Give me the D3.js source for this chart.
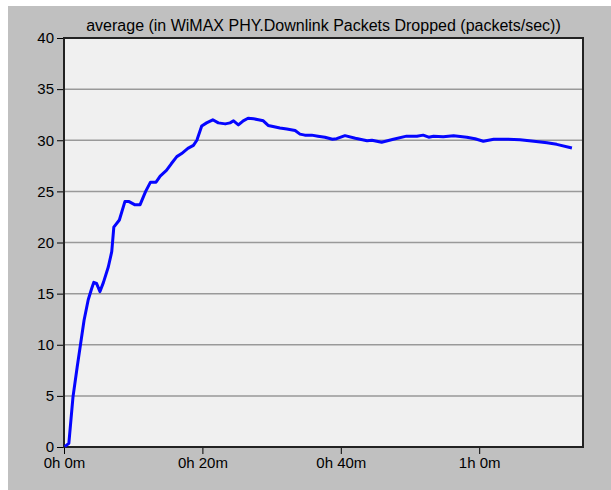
<!DOCTYPE html>
<html><head><meta charset="utf-8">
<script src="https://cdn.jsdelivr.net/npm/d3@7"></script>
<style>html,body{margin:0;padding:0;background:#fff;}svg{display:block;}</style>
</head><body>
<script>
const title = "average (in WiMAX PHY.Downlink Packets Dropped (packets/sec))";
const minutes = [0.1,0.7,1.3,1.9,2.4,2.9,3.5,4.0,4.3,4.7,5.2,5.7,6.4,6.9,7.2,8.0,8.8,9.4,10.2,11.0,11.8,12.5,13.3,13.9,14.8,15.5,16.3,17.0,17.9,18.7,19.2,19.9,20.6,21.5,22.3,23.3,24.0,24.5,25.2,25.9,26.6,27.4,28.1,28.8,29.5,30.2,31.2,32.2,33.4,34.1,34.8,35.8,36.7,37.7,38.8,39.4,40.6,42.1,43.8,44.5,45.9,47.6,49.5,51.0,51.9,52.7,53.4,54.8,56.3,58.2,59.4,60.6,62.1,64.0,65.9,67.9,69.8,71.2,73.4];
const values = [0.03,0.36,4.9,7.8,10.1,12.4,14.4,15.5,16.1,16.0,15.2,16.1,17.6,19.1,21.5,22.2,24.0,24.0,23.7,23.7,25.0,25.9,25.9,26.5,27.05,27.7,28.4,28.7,29.2,29.5,30.0,31.4,31.7,32.0,31.7,31.6,31.7,31.9,31.5,31.9,32.15,32.1,32.0,31.9,31.45,31.35,31.2,31.1,30.95,30.6,30.5,30.5,30.4,30.3,30.1,30.15,30.45,30.2,29.95,30.0,29.8,30.1,30.4,30.4,30.5,30.3,30.4,30.35,30.45,30.3,30.15,29.9,30.1,30.1,30.05,29.9,29.75,29.6,29.25];
const yTicks = [0,5,10,15,20,25,30,35,40];
const xTicks = [0,20,40,60];
const xTickLabels = ["0h 0m","0h 20m","0h 40m","1h 0m"];

const W = 611, H = 490;
const m = {left:64, right:W-583, top:38, bottom:H-447};
const svg = d3.select("body").append("svg").attr("width",W).attr("height",H);
svg.append("rect").attr("x",8).attr("y",6).attr("width",W-8).attr("height",H-6).attr("fill","#c0c0c0");

const x = d3.scaleLinear().domain([0,75]).range([m.left, W-m.right]);
const y = d3.scaleLinear().domain([0,40]).range([H-m.bottom, m.top]);

svg.append("rect").attr("x",x(0)).attr("y",y(40)).attr("width",x(75)-x(0)).attr("height",y(0)-y(40)).attr("fill","#f0f0f0");

// grid
svg.append("g").selectAll("line").data(yTicks.filter(d=>d>0&&d<40)).join("line")
  .attr("x1",x(0)).attr("x2",x(75)).attr("y1",d=>y(d)).attr("y2",d=>y(d))
  .attr("stroke","#999").attr("stroke-width",1.5);

const font = "'Liberation Sans', Arial, sans-serif";
// y axis
const ya = svg.append("g").attr("transform",`translate(${x(0)},0)`)
  .call(d3.axisLeft(y).tickValues(yTicks).tickSize(7).tickPadding(3).tickFormat(d3.format("d")));
ya.select(".domain").remove();
ya.selectAll("line").attr("stroke","#000");
ya.selectAll("text").attr("font-family",font).attr("font-size",15).attr("fill","#000");

// x axis
const xa = svg.append("g").attr("transform",`translate(0,${y(0)})`)
  .call(d3.axisBottom(x).tickValues(xTicks).tickSize(7).tickPadding(3).tickFormat((d,i)=>xTickLabels[i]));
xa.select(".domain").remove();
xa.selectAll("line").attr("stroke","#000");
xa.selectAll("text").attr("font-family",font).attr("font-size",15).attr("fill","#000");

// frame
svg.append("rect").attr("x",x(0)).attr("y",y(40)).attr("width",x(75)-x(0)).attr("height",y(0)-y(40))
  .attr("fill","none").attr("stroke","#222").attr("stroke-width",2);

// line
svg.append("path").datum(minutes.map((t,i)=>[t,values[i]]))
  .attr("d",d3.line().x(d=>x(d[0])).y(d=>y(d[1])))
  .attr("fill","none").attr("stroke","#0505ff").attr("stroke-width",3).attr("stroke-linejoin","round");

svg.append("text").attr("x",(x(0)+x(75))/2).attr("y",31).attr("text-anchor","middle")
  .attr("font-family",font).attr("font-size",16).attr("fill","#000").text(title);
</script>
</body></html>
